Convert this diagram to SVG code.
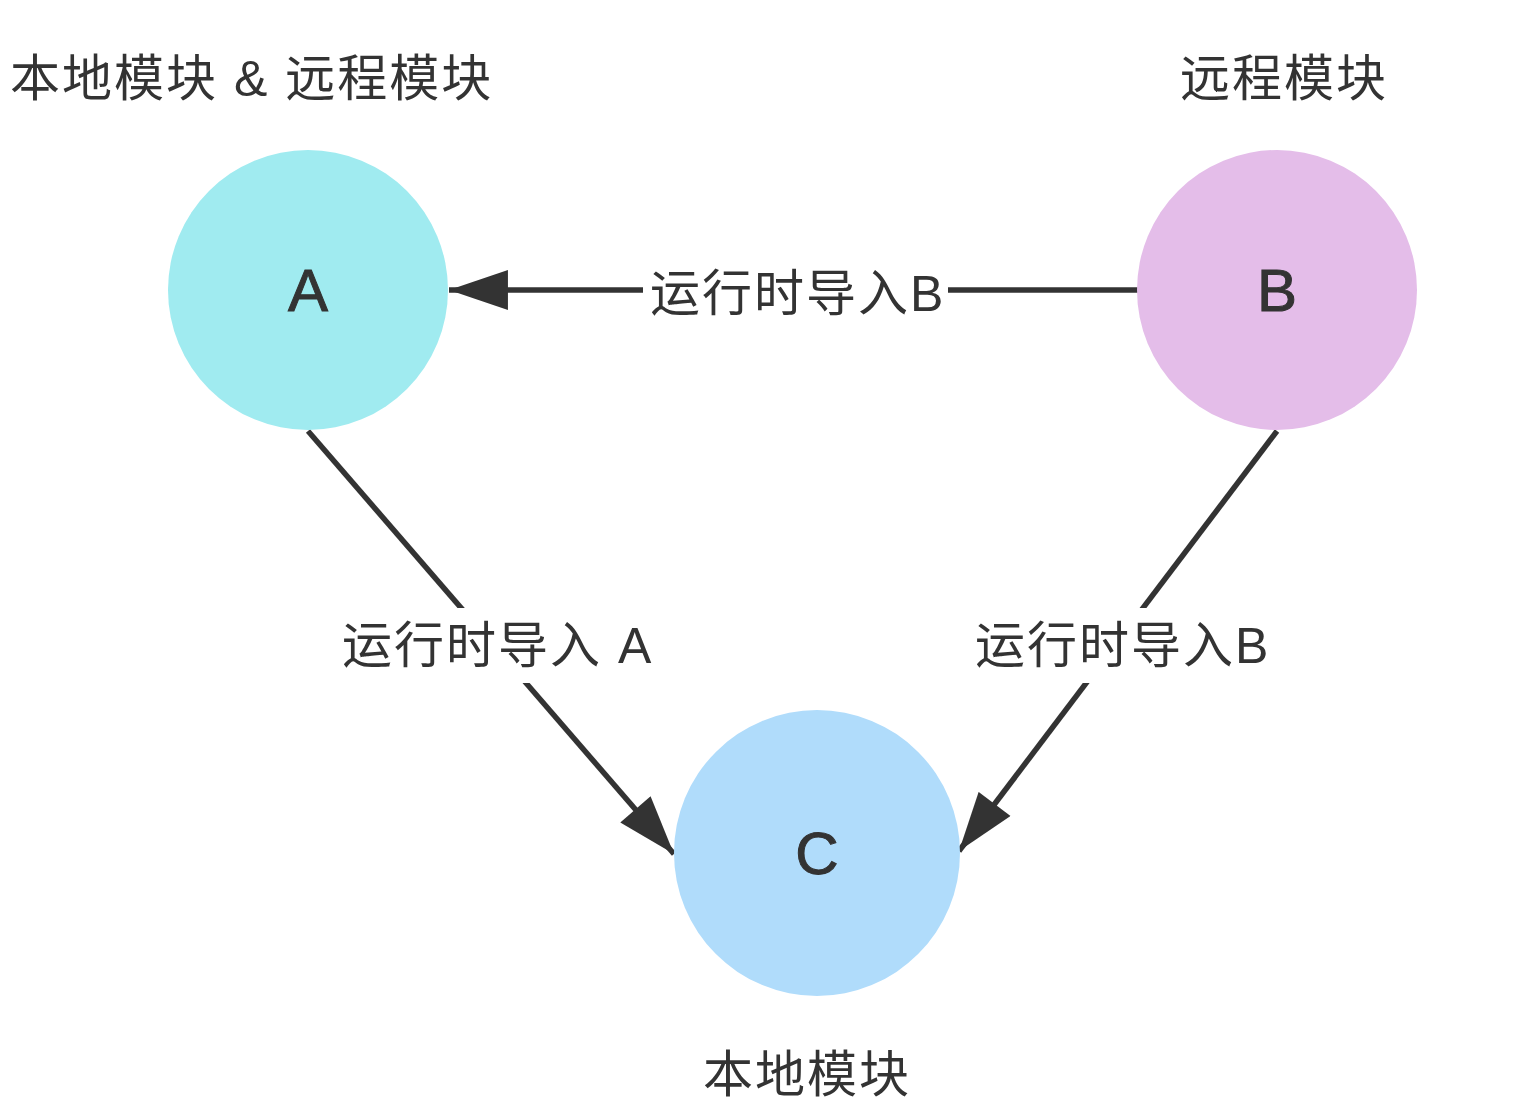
<svg xmlns="http://www.w3.org/2000/svg" width="1526" height="1120" viewBox="0 0 1526 1120">
<style>
.t{font-family:"Liberation Sans","Noto Sans CJK SC",sans-serif;fill:#333;font-size:50px;letter-spacing:2px}
.n{font-family:"Liberation Sans",Arial,sans-serif;fill:#333;stroke:#333;stroke-width:1px;font-size:60px;text-anchor:middle;dominant-baseline:central}
.e{stroke:#333;stroke-width:5.5;fill:none}
.bg{fill:#fff}
</style>
<defs>
<marker id="arr" markerUnits="userSpaceOnUse" markerWidth="60" markerHeight="40" viewBox="0 0 56 38" refX="56" refY="19" orient="auto">
<path d="M0,0 L56,19 L0,38 Z" fill="#333"/>
</marker>
</defs>
<rect width="1526" height="1120" fill="#fff"/>
<g id="connectors">
<line class="e" x1="1138" y1="290" x2="449" y2="290" marker-end="url(#arr)"/>
<rect class="bg" x="643" y="262" width="305" height="60"/>
<text class="t" x="650" y="311">运行时导入B</text>
<line class="e" x1="308" y1="431" x2="674" y2="854" marker-end="url(#arr)"/>
<rect class="bg" x="338" y="608" width="320" height="75"/>
<text class="t" x="342" y="663">运行时导入 A</text>
<line class="e" x1="1277" y1="431" x2="959" y2="851" marker-end="url(#arr)"/>
<rect class="bg" x="970" y="608" width="302" height="75"/>
<text class="t" x="975" y="663">运行时导入B</text>
</g>
<g id="node-A">
<circle cx="308" cy="290" r="140" fill="#a0ebf0"/>
<text class="n" x="308" y="290">A</text>
<text class="t" x="10" y="96">本地模块 &amp; 远程模块</text>
</g>
<g id="node-B">
<circle cx="1277" cy="290" r="140" fill="#e4bde9"/>
<text class="n" x="1277" y="290">B</text>
<text class="t" x="1180" y="96">远程模块</text>
</g>
<g id="node-C">
<circle cx="817" cy="853" r="143" fill="#b0dcfb"/>
<text class="n" x="817" y="853">C</text>
<text class="t" x="703" y="1092">本地模块</text>
</g>
</svg>
